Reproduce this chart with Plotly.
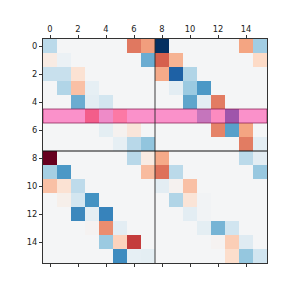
import plotly.graph_objects as go

n = 16
tick_vals = [0, 2, 4, 6, 8, 10, 12, 14]
tick_text = ["0", "2", "4", "6", "8", "10", "12", "14"]
highlight_row = 5
split_at = 7.5

row_00 = [0.27, 0, 0, 0, 0, 0, -0.53, -0.42, 1.0, 0, 0, 0, 0, 0, -0.4, 0.35]
row_01 = [-0.08, 0.05, 0, 0, 0, 0, 0, 0.5, -0.6, -0.35, 0, 0, 0, 0, 0, -0.2]
row_02 = [0.23, 0.23, -0.15, 0, 0, 0, 0, 0, -0.38, 0.82, 0.3, 0, 0, 0, 0, 0]
row_03 = [0, 0.3, -0.3, 0.08, 0, 0, 0, 0, 0, 0.1, 0.37, 0.58, 0, 0, 0, 0]
row_04 = [0, 0, 0.5, 0.1, 0.19, 0, 0, 0, 0, 0, 0.53, 0.1, -0.52, 0, 0, 0]
row_05 = [0, 0, 0, -0.5, 0.15, -0.3, 0, 0, 0, 0, 0, 0.45, -0.1, 0.75, 0, 0]
row_06 = [0, 0, 0, 0, 0.09, -0.03, -0.12, 0, 0, 0, 0, 0, -0.5, 0.55, -0.4, 0]
row_07 = [0, 0, 0, 0, 0, 0.08, 0.28, 0.4, 0, 0, 0, 0, 0, 0, -0.52, 0.1]
row_08 = [-1.0, 0, 0, 0, 0, 0, 0.28, -0.08, -0.38, 0, 0, 0, 0, 0, 0.27, 0.1]
row_09 = [0.34, 0.58, 0, 0, 0, 0, 0, -0.32, -0.55, 0.27, 0, 0, 0, 0, 0, 0.38]
row_10 = [-0.3, -0.15, 0.26, 0, 0, 0, 0, 0, 0.1, -0.03, -0.3, 0, 0, 0, 0, 0]
row_11 = [0, -0.05, 0.19, 0.6, 0, 0, 0, 0, 0, 0.3, -0.13, 0.02, 0, 0, 0, 0]
row_12 = [0, 0, 0.65, 0.09, 0.67, 0, 0, 0, 0, 0, 0.1, 0.02, 0, 0, 0, 0]
row_13 = [0, 0, 0, -0.02, -0.47, 0.1, 0, 0, 0, 0, 0, 0.09, 0.47, 0.2, 0, 0]
row_14 = [0, 0, 0, 0, 0.37, -0.23, -0.7, 0, 0, 0, 0, 0, -0.02, -0.25, 0.12, 0]
row_15 = [0, 0, 0, 0, 0, 0.63, 0.08, 0.09, 0, 0, 0, 0, 0, -0.18, 0.39, 0.2]

z = [row_00, row_01, row_02, row_03, row_04, row_05, row_06, row_07,
     row_08, row_09, row_10, row_11, row_12, row_13, row_14, row_15]

rdbu = [
    [0.0, "#67001f"], [0.1, "#b2182b"], [0.2, "#d6604d"], [0.3, "#f4a582"],
    [0.4, "#fddbc7"], [0.5, "#f4f5f6"], [0.6, "#d1e5f0"], [0.7, "#92c5de"],
    [0.8, "#4393c3"], [0.9, "#2166ac"], [1.0, "#053061"],
]

fig = go.Figure(go.Heatmap(
    z=z, x=list(range(n)), y=list(range(n)),
    colorscale=rdbu, zmin=-1, zmax=1, showscale=False, hoverinfo="skip",
))

fig.add_shape(type="rect", xref="x", yref="y",
              x0=-0.5, x1=n - 0.5, y0=highlight_row - 0.5, y1=highlight_row + 0.5,
              fillcolor="rgba(255,62,165,0.55)",
              line=dict(color="rgba(130,20,75,0.7)", width=1), layer="above")
fig.add_shape(type="line", xref="x", yref="y",
              x0=split_at, x1=split_at, y0=-0.5, y1=n - 0.5,
              line=dict(color="rgba(40,40,40,0.6)", width=1.5), layer="above")
fig.add_shape(type="line", xref="x", yref="y",
              x0=-0.5, x1=n - 0.5, y0=split_at, y1=split_at,
              line=dict(color="#111111", width=1.2), layer="above")

axis_common = dict(
    tickvals=tick_vals, ticktext=tick_text, ticks="outside", ticklen=3,
    tickwidth=1, tickcolor="#333333", showgrid=False, zeroline=False,
    showline=True, linecolor="#333333", linewidth=1, automargin=False,
    tickfont=dict(family="DejaVu Sans", size=8.3, color="#222222"),
)

fig.update_layout(
    width=288, height=288,
    margin=dict(l=35, r=29, t=31, b=33),
    paper_bgcolor="white", plot_bgcolor="white",
    xaxis=dict(range=[-0.5, n - 0.5], side="top", mirror="ticks", **axis_common),
    yaxis=dict(range=[n - 0.5, -0.5], mirror=True, **axis_common),
)

fig.write_html("out.html")
